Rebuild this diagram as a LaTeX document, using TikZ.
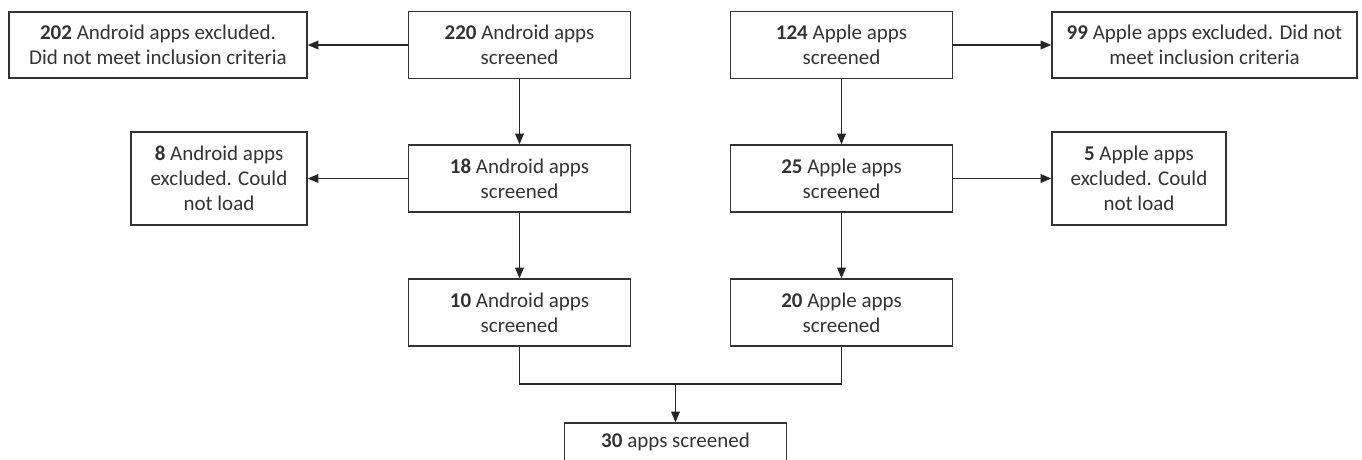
\documentclass[tikz,border=0pt]{standalone}
\usepackage{fontspec}
\setmainfont{Carlito}
\usepackage{tikz}
\usetikzlibrary{arrows}
\tikzset{
  box/.style={draw=black!80,line width=1.5pt,fill=white,align=center,inner sep=0pt,
    text=black!80,font=\fontsize{21}{25}\selectfont},
  screenbox/.style={box,minimum width=222pt,minimum height=67pt},
  exclbox/.style={box,minimum height=66pt}
}
\begin{document}
\begin{tikzpicture}[line join=miter,>=triangle 45,x=1pt,y=-1pt]
      \useasboundingbox (0,0) rectangle (1362,459);
      % android column
      \node[screenbox] (and1) at (519.5,45) {\textbf{220} Android apps\\screened};
      \node[screenbox] (and2) at (519.5,178.5) {\textbf{18} Android apps\\screened};
      \node[screenbox] (and3) at (519.5,312.5) {\textbf{10} Android apps\\screened};
      % apple column
      \node[screenbox] (app1) at (841.5,45) {\textbf{124} Apple apps\\screened};
      \node[screenbox] (app2) at (841.5,178.5) {\textbf{25} Apple apps\\screened};
      \node[screenbox] (app3) at (841.5,312.5) {\textbf{20} Apple apps\\screened};
      % excluded
      \node[exclbox,minimum width=298pt] (excl1) at (158,45) {\textbf{202} Android apps excluded.\\Did not meet inclusion criteria};
      \node[exclbox,minimum width=176pt,minimum height=93pt] (excl2) at (219,178.5) {\textbf{8} Android apps\\excluded. Could\\not load};
      \node[exclbox,minimum width=305pt] (excl3) at (1204.5,45) {\textbf{99} Apple apps excluded. Did not\\meet inclusion criteria};
      \node[exclbox,minimum width=174pt,minimum height=93pt] (excl4) at (1139,178.5) {\textbf{5} Apple apps\\excluded. Could\\not load};
      % total
      \node[screenbox,minimum height=66pt] (total) at (675.5,456) {\textbf{30} apps screened\\ \strut};
      \coordinate (join) at (675.5,384);
      \draw[->,line width=1.5pt,color=black!85] (and1) -- (excl1);
      \draw[->,line width=1.5pt,color=black!85] (and2) -- (excl2);
      \draw[->,line width=1.5pt,color=black!85] (app1) -- (excl3);
      \draw[->,line width=1.5pt,color=black!85] (app2) -- (excl4);
      \draw[->,line width=1.5pt,color=black!85] (and1) -- (and2);
      \draw[->,line width=1.5pt,color=black!85] (and2) -- (and3);
      \draw[->,line width=1.5pt,color=black!85] (app1) -- (app2);
      \draw[->,line width=1.5pt,color=black!85] (app2) -- (app3);
      \draw[line width=1.5pt,color=black!85] (and3.south) |- (join) -| (app3.south);
      \draw[->,line width=1.5pt,color=black!85] (join) -- (total);
\end{tikzpicture}
\end{document}
